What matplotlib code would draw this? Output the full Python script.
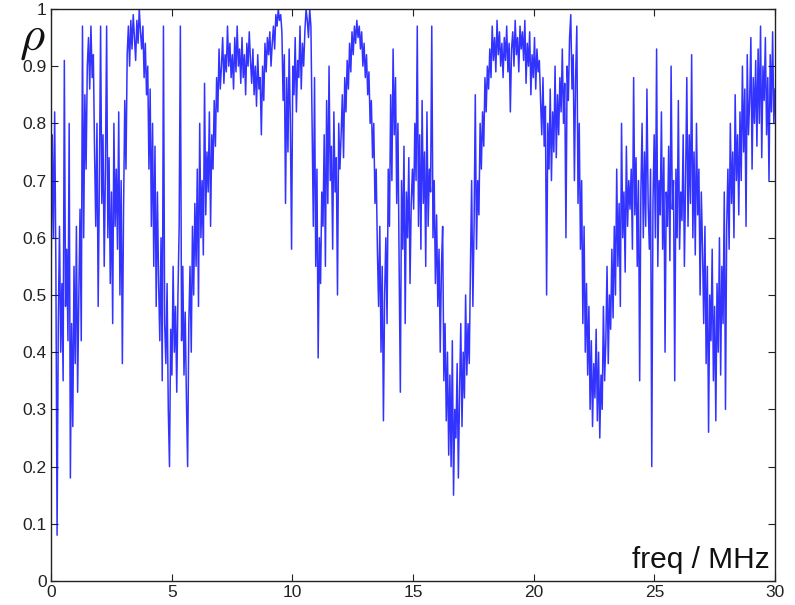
import numpy as np
import matplotlib
matplotlib.use("Agg")
import matplotlib.pyplot as plt

plt.rcParams['font.family'] = ['Liberation Sans', 'DejaVu Sans']
plt.rcParams['mathtext.fontset'] = 'cm'

# rho values, evenly spaced over 0..30 MHz (one row = 0.75 MHz)
rho = [
    0.52, 0.78, 0.60, 0.82, 0.55, 0.08, 0.45, 0.62, 0.40, 0.52, 0.35, 0.91, 0.48, 0.58, 0.42,
    0.80, 0.18, 0.45, 0.27, 0.55, 0.38, 0.62, 0.33, 0.50, 0.65, 0.42, 0.97, 0.60, 0.85, 0.72,
    0.90, 0.95, 0.86, 0.97, 0.88, 0.92, 0.75, 0.62, 0.80, 0.48, 0.70, 0.97, 0.66, 0.78, 0.55,
    0.72, 0.97, 0.60, 0.74, 0.52, 0.68, 0.45, 0.80, 0.62, 0.72, 0.58, 0.82, 0.50, 0.70, 0.38,
    0.65, 0.84, 0.72, 0.92, 0.97, 0.90, 0.98, 0.93, 0.99, 0.95, 0.91, 0.98, 0.94, 1.00, 0.96,
    0.93, 0.97, 0.88, 0.94, 0.85, 0.90, 0.72, 0.86, 0.62, 0.80, 0.55, 0.76, 0.48, 0.68, 0.52,
    0.42, 0.60, 0.35, 0.97, 0.45, 0.38, 0.52, 0.30, 0.20, 0.44, 0.36, 0.55, 0.40, 0.48, 0.33,
    0.50, 0.62, 0.97, 0.42, 0.55, 0.36, 0.47, 0.32, 0.20, 0.45, 0.55, 0.40, 0.62, 0.50, 0.66,
    0.55, 0.72, 0.48, 0.80, 0.60, 0.70, 0.57, 0.87, 0.64, 0.75, 0.68, 0.82, 0.62, 0.78, 0.72,
    0.84, 0.76, 0.88, 0.82, 0.93, 0.86, 0.90, 0.95, 0.87, 0.92, 0.89, 0.97, 0.90, 0.94, 0.88,
    0.92, 0.86, 0.95, 0.89, 0.97, 0.90, 0.93, 0.87, 0.95, 0.88, 0.92, 0.85, 0.94, 0.90, 0.96,
    0.91, 0.87, 0.93, 0.85, 0.90, 0.83, 0.92, 0.86, 0.88, 0.78, 0.90, 0.84, 0.94, 0.89, 0.95,
    0.92, 0.96, 0.90, 0.94, 0.97, 0.93, 0.99, 0.97, 1.00, 0.98, 0.99, 0.96, 0.84, 0.92, 0.66,
    0.88, 0.75, 0.93, 0.80, 0.58, 0.90, 0.85, 0.95, 0.82, 0.91, 0.88, 0.97, 0.86, 0.94, 0.90,
    0.96, 1.00, 0.98, 0.95, 1.00, 0.97, 0.80, 0.62, 0.88, 0.55, 0.72, 0.39, 0.60, 0.52, 0.68,
    0.62, 0.78, 0.55, 0.84, 0.66, 0.90, 0.70, 0.76, 0.58, 0.82, 0.68, 0.74, 0.50, 0.80, 0.72,
    0.78, 0.85, 0.74, 0.88, 0.82, 0.91, 0.86, 0.94, 0.89, 0.96, 0.92, 0.97, 0.94, 0.98, 0.95,
    0.97, 0.93, 0.96, 0.90, 0.94, 0.88, 0.92, 0.85, 0.89, 0.80, 0.84, 0.74, 0.80, 0.66, 0.72,
    0.58, 0.48, 0.62, 0.40, 0.55, 0.28, 0.50, 0.60, 0.45, 0.72, 0.62, 0.85, 0.70, 0.93, 0.78,
    0.88, 0.66, 0.80, 0.55, 0.33, 0.70, 0.58, 0.76, 0.45, 0.68, 0.60, 0.74, 0.52, 0.66, 0.72,
    0.65, 0.80, 0.70, 0.97, 0.62, 0.78, 0.58, 0.84, 0.66, 0.75, 0.55, 0.82, 0.62, 0.72, 0.68,
    0.97, 0.60, 0.70, 0.52, 0.64, 0.48, 0.58, 0.40, 0.55, 0.62, 0.35, 0.45, 0.28, 0.40, 0.22,
    0.36, 0.20, 0.42, 0.15, 0.30, 0.25, 0.38, 0.18, 0.33, 0.45, 0.27, 0.40, 0.32, 0.50, 0.36,
    0.45, 0.38, 0.55, 0.70, 0.48, 0.62, 0.85, 0.58, 0.70, 0.64, 0.80, 0.72, 0.82, 0.76, 0.88,
    0.82, 0.90, 0.86, 0.93, 0.88, 0.97, 0.91, 0.95, 0.89, 0.98, 0.92, 0.96, 0.90, 0.94, 0.88,
    0.95, 0.91, 0.97, 0.89, 0.94, 0.82, 0.93, 0.96, 0.90, 0.98, 0.92, 0.95, 0.89, 0.97, 0.93,
    0.96, 0.91, 0.98, 0.87, 0.94, 0.90, 0.96, 0.85, 0.92, 0.88, 0.95, 0.86, 0.93, 0.89, 0.91,
    0.84, 0.78, 0.88, 0.76, 0.83, 0.50, 0.80, 0.72, 0.86, 0.70, 0.82, 0.75, 0.90, 0.74, 0.85,
    0.78, 0.88, 0.82, 0.93, 0.80, 0.87, 0.60, 0.90, 0.84, 0.95, 0.99, 0.86, 0.92, 0.70, 0.88,
    0.97, 0.66, 0.80, 0.58, 0.70, 0.45, 0.62, 0.40, 0.52, 0.36, 0.48, 0.30, 0.42, 0.27, 0.38,
    0.32, 0.44, 0.28, 0.40, 0.25, 0.36, 0.30, 0.48, 0.35, 0.42, 0.55, 0.38, 0.50, 0.44, 0.58,
    0.46, 0.62, 0.50, 0.72, 0.55, 0.66, 0.48, 0.80, 0.60, 0.68, 0.54, 0.76, 0.62, 0.70, 0.65,
    0.72, 0.58, 0.88, 0.64, 0.74, 0.55, 0.70, 0.35, 0.68, 0.80, 0.60, 0.75, 0.62, 0.86, 0.66,
    0.58, 0.72, 0.20, 0.66, 0.78, 0.60, 0.93, 0.55, 0.70, 0.64, 0.82, 0.58, 0.74, 0.40, 0.68,
    0.62, 0.76, 0.56, 0.90, 0.65, 0.70, 0.35, 0.72, 0.60, 0.84, 0.58, 0.68, 0.63, 0.78, 0.55,
    0.70, 0.88, 0.62, 0.78, 0.66, 0.92, 0.60, 0.75, 0.57, 0.80, 0.64, 0.72, 0.50, 0.68, 0.58,
    0.45, 0.62, 0.38, 0.55, 0.26, 0.50, 0.42, 0.58, 0.35, 0.48, 0.28, 0.52, 0.40, 0.60, 0.36,
    0.55, 0.45, 0.68, 0.30, 0.62, 0.72, 0.58, 0.80, 0.66, 0.75, 0.60, 0.85, 0.70, 0.78, 0.64,
    0.82, 0.70, 0.90, 0.75, 0.86, 0.62, 0.92, 0.78, 0.84, 0.95, 0.72, 0.88, 0.80, 0.91, 0.76,
    0.93, 0.80, 0.97, 0.74, 0.90, 0.84, 0.95, 0.78, 0.88, 0.70, 0.92, 0.82, 0.96, 0.80, 0.86,
]
freq = np.linspace(0, 30, len(rho))

x_ticks = [0, 5, 10, 15, 20, 25, 30]
y_ticks = [0, 0.1, 0.2, 0.3, 0.4, 0.5, 0.6, 0.7, 0.8, 0.9, 1]
y_labels = ['0', '0.1', '0.2', '0.3', '0.4', '0.5', '0.6', '0.7', '0.8', '0.9', '1']

fig = plt.figure(figsize=(7.95, 6.05), dpi=100)
ax = fig.add_axes([0.0642, 0.0397, 0.9107, 0.9455])

ax.plot(freq, rho, color='#0000ff', lw=1.1, alpha=0.8)

ax.set_xlim(0, 30)
ax.set_ylim(0, 1)
ax.set_xticks(x_ticks)
ax.set_xticklabels([str(t) for t in x_ticks])
ax.set_yticks(y_ticks)
ax.set_yticklabels(y_labels)
ax.tick_params(direction='in', top=True, right=True, length=5, width=0.8,
               labelsize=12.5, colors='#222222', pad=3)
for s in ax.spines.values():
    s.set_linewidth(1.0)
    s.set_color('#222222')

ax.text(0.993, 0.012, 'freq / MHz', transform=ax.transAxes, ha='right', va='bottom',
        fontsize=21.5, color='#111111')
fig.text(0.040, 0.935, r'$\rho$', fontsize=35, ha='center', va='center', color='#111111')

fig.savefig('out.png', dpi=100)
